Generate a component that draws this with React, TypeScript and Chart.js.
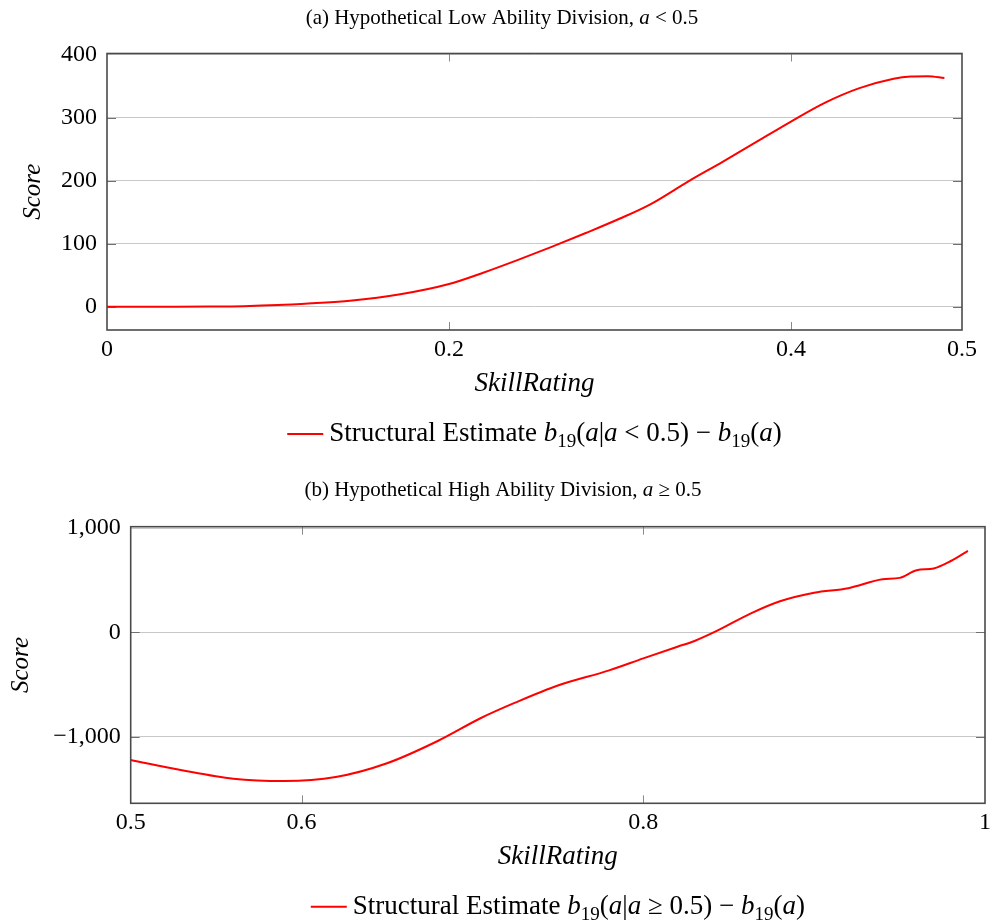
import React, { useEffect, useRef } from "react";
import { Chart, registerables } from "chart.js";

Chart.register(...registerables);

// ---------- data ----------
const lowSkill = [0, 0.02, 0.04, 0.06, 0.08, 0.1, 0.12, 0.142, 0.1715, 0.2, 0.22, 0.24, 0.26, 0.28, 0.3, 0.318, 0.34, 0.36, 0.38, 0.4, 0.42, 0.44, 0.46, 0.47, 0.48, 0.4897];
const lowScore = [0, 0, 0, 0.2, 0.8, 2.5, 5.5, 9.5, 19.7, 36, 54, 74, 95, 117, 140, 163, 199, 230, 262, 294, 324, 347, 362, 365.5, 366, 363];

const highSkill = [0.5, 0.53, 0.56, 0.59, 0.62, 0.65, 0.68, 0.705, 0.725, 0.75, 0.78, 0.8, 0.82, 0.83, 0.843, 0.863, 0.88, 0.9, 0.92, 0.94, 0.95, 0.96, 0.97, 0.98, 0.99];
const highScore = [-1224, -1323, -1404, -1426, -1388, -1256, -1040, -822, -675, -510, -365, -250, -138, -83, 13, 182, 298, 380, 423, 508, 522, 596, 613, 684, 782];

const lowXTicks = [0, 0.2, 0.4, 0.5];
const lowYTicks = [0, 100, 200, 300, 400];
const highXTicks = [0.5, 0.6, 0.8, 1];
const highYTicks = [-1000, 0, 1000];

const xAxisTitle = "SkillRating";
const yAxisTitle = "Score";

type Seg = { t: string; it?: boolean; sub?: boolean };

const lowTitle: Seg[] = [{ t: "(a) Hypothetical Low Ability Division, " }, { t: "a", it: true }, { t: " < 0.5" }];
const highTitle: Seg[] = [{ t: "(b) Hypothetical High Ability Division, " }, { t: "a", it: true }, { t: " \u2265 0.5" }];

const lowLegend: Seg[] = [
  { t: "Structural Estimate " }, { t: "b", it: true }, { t: "19", sub: true }, { t: "(" }, { t: "a", it: true },
  { t: "|" }, { t: "a", it: true }, { t: " < 0.5) \u2212 " }, { t: "b", it: true }, { t: "19", sub: true },
  { t: "(" }, { t: "a", it: true }, { t: ")" },
];
const highLegend: Seg[] = [
  { t: "Structural Estimate " }, { t: "b", it: true }, { t: "19", sub: true }, { t: "(" }, { t: "a", it: true },
  { t: "|" }, { t: "a", it: true }, { t: " \u2265 0.5) \u2212 " }, { t: "b", it: true }, { t: "19", sub: true },
  { t: "(" }, { t: "a", it: true }, { t: ")" },
];

const FONT = '"Liberation Serif", "DejaVu Serif", serif';
const RED = "#ff0000";

function fontFor(s: Seg, size: number) {
  return `${s.it ? "italic " : ""}${s.sub ? Math.round(size * 0.7) : size}px ${FONT}`;
}

function drawRich(ctx: CanvasRenderingContext2D, segs: Seg[], x: number, y: number, size: number, align: "left" | "center") {
  let total = 0;
  const widths = segs.map((s) => {
    ctx.font = fontFor(s, size);
    const w = ctx.measureText(s.t).width;
    total += w;
    return w;
  });
  let cx = align === "center" ? x - total / 2 : x;
  ctx.textBaseline = "alphabetic";
  ctx.textAlign = "left";
  ctx.fillStyle = "#000";
  segs.forEach((s, i) => {
    ctx.font = fontFor(s, size);
    ctx.fillText(s.t, cx, y + (s.sub ? size * 0.22 : 0));
    cx += widths[i];
  });
  return total;
}

function measureRich(ctx: CanvasRenderingContext2D, segs: Seg[], size: number) {
  let total = 0;
  segs.forEach((s) => {
    ctx.font = fontFor(s, size);
    total += ctx.measureText(s.t).width;
  });
  return total;
}

const fmtY = (v: number) => {
  const s = Math.abs(v).toLocaleString("en-US");
  return v < 0 ? "\u2212" + s : s;
};

interface PanelProps {
  skill: number[];
  score: number[];
  xTicks: number[];
  yTicks: number[];
  xMin: number;
  xMax: number;
  yMin: number;
  yMax: number;
  yAxisWidth: number;
  top: number;
  rightPad: number;
  xAxisHeight: number;
  bottomPad: number;
  yTitlePad: number;
  title: Seg[];
  titleX: number;
  titleY: number;
  legend: Seg[];
  legendOffset: number;
}

function Panel(p: PanelProps) {
  const ref = useRef<HTMLCanvasElement>(null);
  useEffect(() => {
    const decor = {
      id: "decor",
      beforeDatasetsDraw(chart: any) {
        const ctx = chart.ctx as CanvasRenderingContext2D;
        const { left, right, top, bottom } = chart.chartArea;
        const xs = chart.scales.x;
        const ys = chart.scales.y;
        ctx.save();
        ctx.strokeStyle = "#8a8a8a";
        ctx.lineWidth = 1;
        p.xTicks.forEach((v) => {
          const px = Math.round(xs.getPixelForValue(v)) + 0.5;
          if (px <= left + 2 || px >= right - 2) return;
          ctx.beginPath();
          ctx.moveTo(px, bottom);
          ctx.lineTo(px, bottom - 8);
          ctx.moveTo(px, top);
          ctx.lineTo(px, top + 8);
          ctx.stroke();
        });
        ctx.strokeStyle = "#707070";
        p.yTicks.forEach((v) => {
          const py = Math.round(ys.getPixelForValue(v)) + 0.5;
          if (py <= top + 2 || py >= bottom - 2) return;
          ctx.beginPath();
          ctx.moveTo(left, py);
          ctx.lineTo(left + 9, py);
          ctx.moveTo(right, py);
          ctx.lineTo(right - 9, py);
          ctx.stroke();
        });
        ctx.restore();
      },
      afterDatasetsDraw(chart: any) {
        const ctx = chart.ctx as CanvasRenderingContext2D;
        const { left, right, top, bottom } = chart.chartArea;
        ctx.save();
        ctx.strokeStyle = "#4a4a4a";
        ctx.lineWidth = 1.6;
        ctx.strokeRect(left, top, right - left, bottom - top);
        ctx.restore();
      },
      afterDraw(chart: any) {
        const ctx = chart.ctx as CanvasRenderingContext2D;
        const { left, right, bottom } = chart.chartArea;
        ctx.save();
        drawRich(ctx, p.title, p.titleX, p.titleY, 21, "center");
        const size = 27;
        const textW = measureRich(ctx, p.legend, size);
        const total = 42 + textW;
        const cx = (left + right) / 2;
        const start = cx - total / 2;
        const ly = bottom + p.legendOffset;
        ctx.strokeStyle = RED;
        ctx.lineWidth = 2;
        ctx.beginPath();
        ctx.moveTo(start, ly);
        ctx.lineTo(start + 36, ly);
        ctx.stroke();
        drawRich(ctx, p.legend, start + 42, ly + 7, size, "left");
        ctx.restore();
      },
    };

    const chart = new Chart(ref.current!, {
      type: "line",
      data: {
        datasets: [
          {
            label: "Structural Estimate",
            data: p.skill.map((x, i) => ({ x, y: p.score[i] })),
            borderColor: RED,
            backgroundColor: RED,
            borderWidth: 2,
            pointRadius: 0,
            cubicInterpolationMode: "monotone",
            fill: false,
          },
        ],
      },
      options: {
        animation: false,
        responsive: false,
        devicePixelRatio: 1,
        layout: { padding: { top: p.top, left: 0, right: p.rightPad, bottom: p.bottomPad } },
        plugins: { legend: { display: false }, title: { display: false }, tooltip: { enabled: false } },
        scales: {
          x: {
            type: "linear",
            min: p.xMin,
            max: p.xMax,
            afterBuildTicks: (s: any) => {
              s.ticks = p.xTicks.map((v) => ({ value: v }));
            },
            afterFit: (s: any) => {
              s.height = p.xAxisHeight;
            },
            ticks: {
              autoSkip: false,
              maxRotation: 0,
              padding: -3,
              color: "#000",
              font: { family: FONT, size: 24 },
              callback: (v: any) => String(v),
            },
            grid: { display: false },
            border: { display: false },
            title: {
              display: true,
              text: xAxisTitle,
              color: "#000",
              font: { family: FONT, size: 27, style: "italic" },
              padding: { top: 0, bottom: 0 },
            },
          },
          y: {
            type: "linear",
            min: p.yMin,
            max: p.yMax,
            afterBuildTicks: (s: any) => {
              s.ticks = p.yTicks.map((v) => ({ value: v }));
            },
            afterFit: (s: any) => {
              s.width = p.yAxisWidth;
            },
            ticks: {
              padding: 10,
              color: "#000",
              font: { family: FONT, size: 24 },
              callback: (v: any) => fmtY(Number(v)),
            },
            grid: { display: true, drawTicks: false, color: "#c8c8c8", lineWidth: 1 },
            border: { display: false },
            title: {
              display: true,
              text: yAxisTitle,
              color: "#000",
              font: { family: FONT, size: 25, style: "italic" },
              padding: { top: p.yTitlePad, bottom: 0 },
            },
          },
        },
      },
      plugins: [decor],
    } as any);
    return () => chart.destroy();
  }, []);
  return <canvas ref={ref} width={993} height={462} style={{ display: "block", width: 993, height: 462 }} />;
}

export default function App() {
  return (
    <div style={{ position: "absolute", left: 0, top: 0, width: 993, height: 924, background: "#fff" }}>
      <div style={{ position: "absolute", left: 0, top: 0 }}>
        <Panel
          skill={lowSkill}
          score={lowScore}
          xTicks={lowXTicks}
          yTicks={lowYTicks}
          xMin={0}
          xMax={0.5}
          yMin={-37}
          yMax={402}
          yAxisWidth={107}
          top={53.5}
          rightPad={31}
          xAxisHeight={70.4}
          bottomPad={61.6}
          yTitlePad={18.6}
          title={lowTitle}
          titleX={502}
          titleY={24}
          legend={lowLegend}
          legendOffset={104}
        />
      </div>
      <div style={{ position: "absolute", left: 0, top: 462 }}>
        <Panel
          skill={highSkill}
          score={highScore}
          xTicks={highXTicks}
          yTicks={highYTicks}
          xMin={0.5}
          xMax={1}
          yMin={-1640}
          yMax={1013}
          yAxisWidth={130.7}
          top={64.7}
          rightPad={8}
          xAxisHeight={70.1}
          bottomPad={50.6}
          yTitlePad={6.6}
          title={highTitle}
          titleX={503}
          titleY={34}
          legend={highLegend}
          legendOffset={103.4}
        />
      </div>
    </div>
  );
}
